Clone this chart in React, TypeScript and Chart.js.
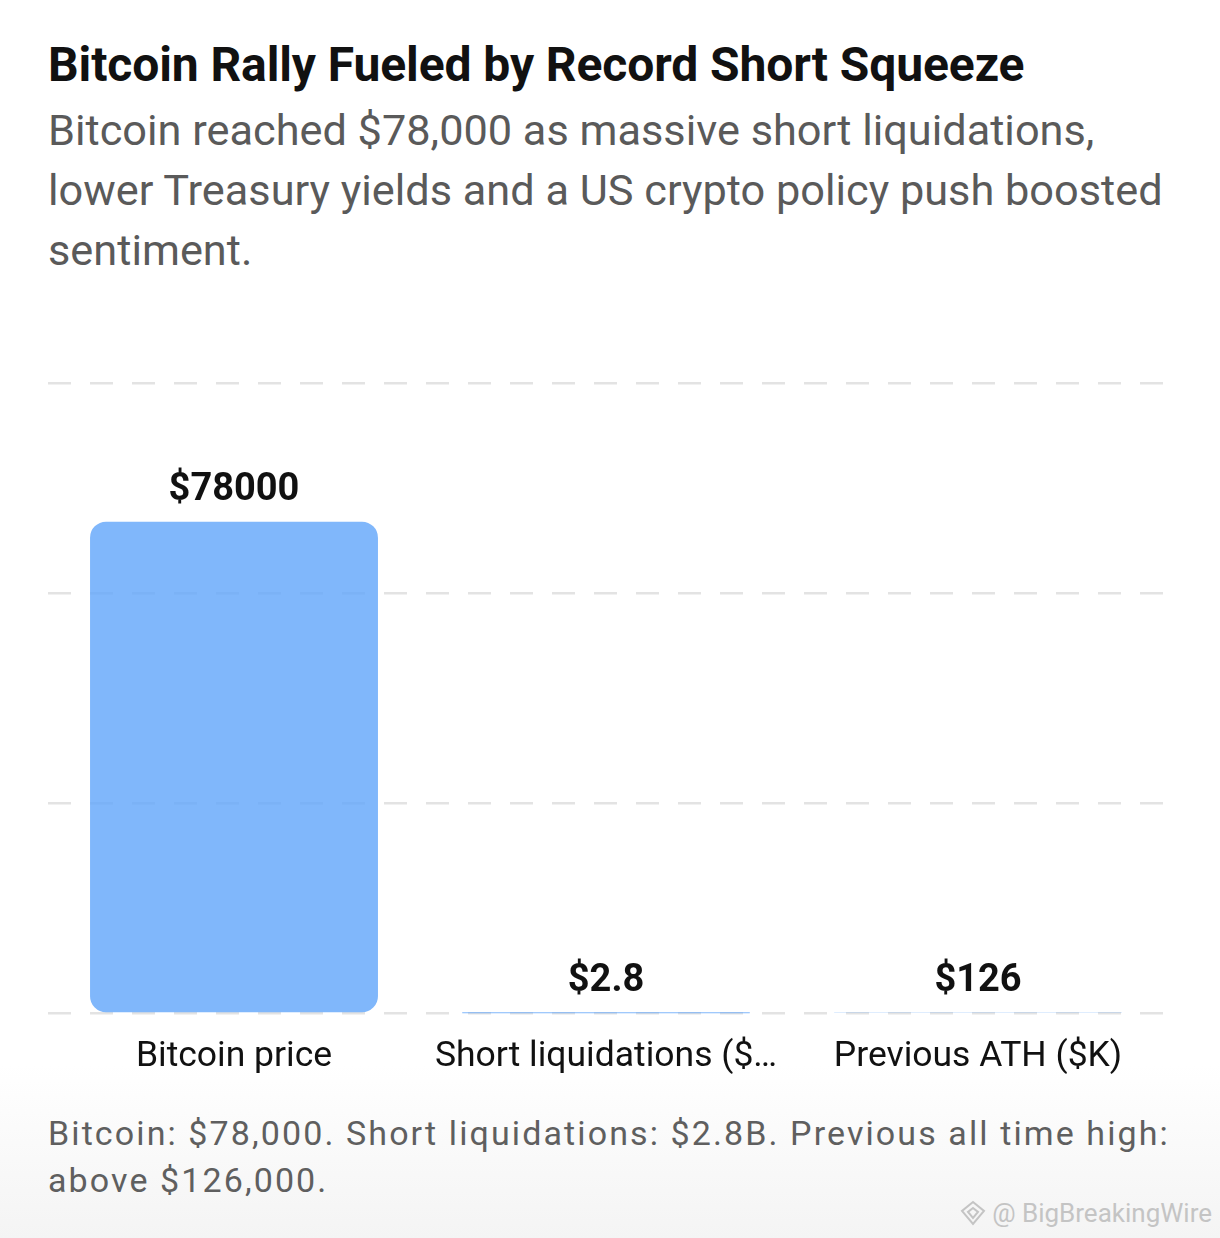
import React, { useEffect, useRef } from "react";
import { Chart, registerables } from "chart.js";

Chart.register(...registerables);

const TITLE = "Bitcoin Rally Fueled by Record Short Squeeze";
const SUBTITLE =
  "Bitcoin reached $78,000 as massive short liquidations, lower Treasury yields and a US crypto policy push boosted sentiment.";
const FOOTER =
  "Bitcoin: $78,000. Short liquidations: $2.8B. Previous all time high: above $126,000.";
const WATERMARK = "@ BigBreakingWire";

const categories = ["Bitcoin price", "Short liquidations ($B)", "Previous ATH ($K)"];
const values = [78000, 2.8, 126];
const valueLabels = ["$78000", "$2.8", "$126"];
const yMax = 100000;

const FONT = "Roboto, 'Noto Sans', sans-serif";

const valueLabelPlugin = {
  id: "valueLabels",
  afterDatasetsDraw(chart: any) {
    const ctx = chart.ctx;
    const meta = chart.getDatasetMeta(0);
    ctx.save();
    ctx.font = `bold 38px ${FONT}`;
    ctx.fillStyle = "#111111";
    ctx.textAlign = "center";
    ctx.textBaseline = "alphabetic";
    meta.data.forEach((bar: any, i: number) => {
      ctx.fillText(valueLabels[i], bar.x, bar.y - 22);
    });
    ctx.restore();
  },
};

function BarChart() {
  const ref = useRef<HTMLCanvasElement | null>(null);
  useEffect(() => {
    if (!ref.current) return;
    const chart = new Chart(ref.current, {
      type: "bar",
      data: {
        labels: categories,
        datasets: [
          {
            data: values,
            backgroundColor: "rgba(96,165,250,0.8)",
            borderRadius: 16,
            borderSkipped: false,
            barPercentage: 1,
            categoryPercentage: 0.774,
          },
        ],
      },
      options: {
        responsive: false,
        maintainAspectRatio: false,
        animation: false,
        devicePixelRatio: 1,
        layout: { padding: { top: 53, left: 0, right: 0, bottom: 0 } },
        plugins: {
          legend: { display: false },
          tooltip: { enabled: false },
          title: { display: false },
        },
        scales: {
          x: {
            grid: { display: false },
            border: { display: false },
            ticks: {
              color: "#111111",
              font: { family: FONT, size: 35.5 },
              padding: 14,
              maxRotation: 0,
              autoSkip: false,
              callback: function (this: any, v: any) {
                const s = categories[v as number];
                return s.length > 21 ? s.slice(0, 21) + "…" : s;
              },
            },
          },
          y: {
            min: 0,
            max: yMax,
            ticks: { display: false, stepSize: yMax / 3 },
            grid: { color: "#e3e3e3", lineWidth: 2.5, drawTicks: false },
            border: { display: false, dash: [23, 19] },
          },
        },
      },
      plugins: [valueLabelPlugin],
    });
    return () => chart.destroy();
  }, []);
  return <canvas ref={ref} width={1116} height={762} style={{ display: "block" }} />;
}

export default function App() {
  return (
    <div
      style={{
        position: "absolute",
        left: 0,
        top: 0,
        width: 1220,
        height: 1238,
        overflow: "hidden",
        fontFamily: FONT,
        background:
          "linear-gradient(180deg, #ffffff 0%, #ffffff 86%, #f4f4f4 100%)",
      }}
    >
      <div
        style={{
          position: "absolute",
          left: 48,
          top: 36,
          fontSize: 48,
          fontWeight: 700,
          color: "#111111",
          lineHeight: "58px",
          letterSpacing: -0.1,
          whiteSpace: "nowrap",
        }}
      >
        {TITLE}
      </div>
      <div
        style={{
          position: "absolute",
          left: 48,
          top: 101,
          width: 1124,
          fontSize: 43.3,
          color: "#5a5a5a",
          lineHeight: "60px",
        }}
      >
        {SUBTITLE}
      </div>
      <div style={{ position: "absolute", left: 48, top: 330 }}>
        <BarChart />
      </div>
      <div
        style={{
          position: "absolute",
          left: 48,
          top: 1110,
          width: 1140,
          fontSize: 34,
          color: "#5f5f5f",
          lineHeight: "47px",
          letterSpacing: 2.1,
        }}
      >
        {FOOTER}
      </div>
      <div
        style={{
          position: "absolute",
          right: 8,
          top: 1196,
          fontSize: 26,
          color: "#c4c4c4",
          lineHeight: "34px",
          display: "flex",
          alignItems: "center",
          gap: 4,
          whiteSpace: "nowrap",
        }}
      >
        <svg width="30" height="28" viewBox="0 0 30 28">
          <path
            d="M15 3 L26 12 L15 25 L4 12 Z M15 9 L20 13 L15 19 L10 13 Z"
            fill="none"
            stroke="#c4c4c4"
            strokeWidth="2"
          />
        </svg>
        <span>{WATERMARK}</span>
      </div>
    </div>
  );
}
